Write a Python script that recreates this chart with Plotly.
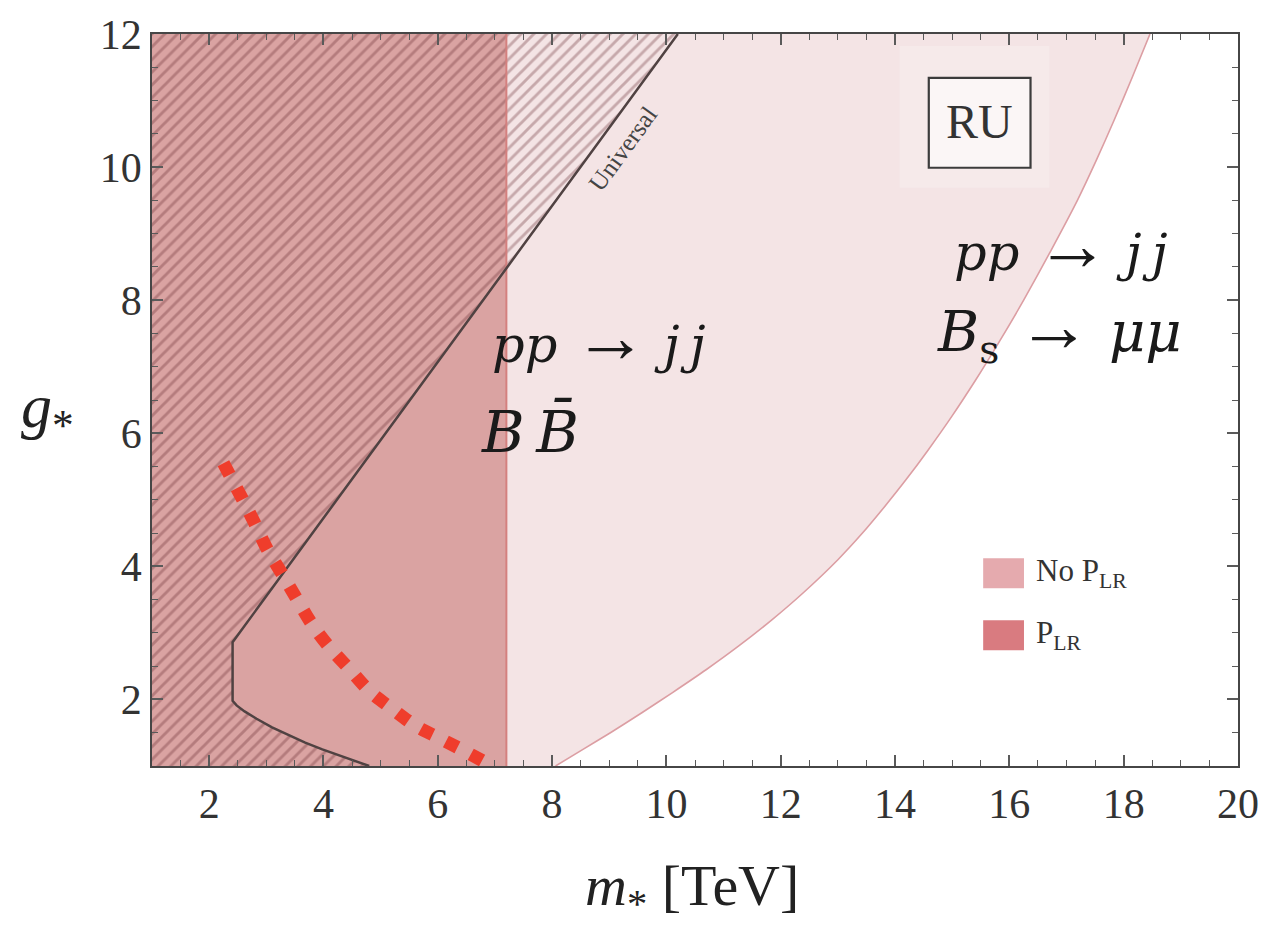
import plotly.graph_objects as go

# ---------------- data ----------------
# outer bound (pp->jj, Bs->mumu), No P_LR
bound_g = [1.0, 1.25, 1.5, 1.8, 2.1, 2.45, 2.8, 3.2, 3.6, 4.1, 4.5, 4.9, 5.3, 5.75,
           6.25, 6.8, 7.4, 8.0, 8.75, 9.5, 10.1, 10.7, 11.35, 12.0]
bound_m = [8.06, 8.54, 9.02, 9.57, 10.10, 10.70, 11.26, 11.85, 12.39, 13.00, 13.43, 13.82,
           14.19, 14.58, 14.99, 15.41, 15.84, 16.25, 16.73, 17.19, 17.52, 17.83, 18.15, 18.46]

# P_LR bound (pp->jj, B Bbar): vertical line
plr_m = 7.2

# "Universal" excluded boundary
univ_m = [4.8, 4.57, 4.25, 3.98, 3.68, 3.4, 3.1, 2.83, 2.62, 2.48, 2.41, 2.41, 10.2]
univ_g = [1.0, 1.07, 1.16, 1.25, 1.35, 1.46, 1.58, 1.71, 1.82, 1.91, 1.98, 2.86, 12.0]

# red dotted curve
red_m = [2.25, 2.57, 2.79, 3.02, 3.28, 3.54, 3.80, 4.10, 4.45, 4.80, 5.20, 5.62, 6.05, 6.50, 6.95]
red_g = [5.55, 5.03, 4.66, 4.25, 3.88, 3.50, 3.13, 2.79, 2.46, 2.13, 1.86, 1.60, 1.41, 1.21, 1.0]

x_range = [1, 20]
y_range = [1, 12]
x_ticks = [2, 4, 6, 8, 10, 12, 14, 16, 18, 20]
y_ticks = [2, 4, 6, 8, 10, 12]

# ---------------- styling ----------------
LIGHT = "rgb(244,228,229)"
DARK = "rgb(218,163,162)"
SERIF = "Liberation Serif"
MATH = "DejaVu Serif"
ARROW = "<span style=\"font-family:'Liberation Serif';font-size:74px\">→</span>"

fig = go.Figure()

# light region (No P_LR)
fig.add_trace(go.Scatter(
    x=[x_range[0]] + bound_m + [x_range[0]],
    y=[y_range[0]] + bound_g + [y_range[1]],
    fill="toself", fillcolor=LIGHT, mode="lines",
    line=dict(width=0), hoverinfo="skip", showlegend=False))

# dark region (P_LR)
fig.add_trace(go.Scatter(
    x=[x_range[0], plr_m, plr_m, x_range[0], x_range[0]],
    y=[y_range[0], y_range[0], y_range[1], y_range[1], y_range[0]],
    fill="toself", fillcolor=DARK, mode="lines",
    line=dict(width=0), hoverinfo="skip", showlegend=False))

# hatched "Universal" region
fig.add_trace(go.Scatter(
    x=[x_range[0]] + univ_m + [x_range[0], x_range[0]],
    y=[y_range[0]] + univ_g + [y_range[1], y_range[0]],
    fill="toself", fillcolor="rgba(0,0,0,0)", mode="lines",
    line=dict(width=0),
    fillpattern=dict(shape="/", size=9, solidity=0.32,
                     fgcolor="rgba(95,35,40,0.62)", bgcolor="rgba(0,0,0,0)"),
    hoverinfo="skip", showlegend=False))

# outer bound curve
fig.add_trace(go.Scatter(x=bound_m, y=bound_g, mode="lines",
                         line=dict(color="rgb(220,158,163)", width=1.6, shape="spline", smoothing=0.6),
                         hoverinfo="skip", showlegend=False))
# vertical P_LR bound
fig.add_trace(go.Scatter(x=[plr_m, plr_m], y=y_range, mode="lines",
                         line=dict(color="rgb(212,128,126)", width=2),
                         hoverinfo="skip", showlegend=False))
# Universal boundary
fig.add_trace(go.Scatter(x=univ_m, y=univ_g, mode="lines",
                         line=dict(color="rgb(80,66,66)", width=2.5),
                         hoverinfo="skip", showlegend=False))
# red dotted line
fig.add_trace(go.Scatter(x=red_m, y=red_g, mode="lines",
                         line=dict(color="rgb(239,61,44)", width=13, dash="13px,15px", shape="spline"),
                         hoverinfo="skip", showlegend=False))

# whitish panel + RU box
fig.add_shape(type="rect", x0=14.08, x1=16.70, y0=9.69, y1=11.82,
              line=dict(width=0), fillcolor="rgba(255,255,255,0.22)", layer="above")
fig.add_shape(type="rect", x0=14.59, x1=16.37, y0=9.99, y1=11.34,
              line=dict(color="rgb(60,60,60)", width=2.2), fillcolor="rgba(255,255,255,0.55)", layer="above")
fig.add_annotation(x=15.48, y=10.68, text="RU", showarrow=False,
                   font=dict(family=SERIF, size=48, color="#333"))

# legend (custom)
fig.add_shape(type="rect", xref="paper", yref="paper",
              x0=(987-152)/1091, x1=(1028-152)/1091, y0=(766-588)/733, y1=(766-558)/733,
              line=dict(width=0), fillcolor="rgb(229,170,174)")
fig.add_shape(type="rect", xref="paper", yref="paper",
              x0=(987-152)/1091, x1=(1028-152)/1091, y0=(766-650)/733, y1=(766-620)/733,
              line=dict(width=0), fillcolor="rgb(217,123,128)")
fig.add_annotation(xref="paper", yref="paper", x=(1038-152)/1091, y=(766-573)/733,
                   xanchor="left", yanchor="middle", showarrow=False,
                   text="No P<sub>LR</sub>", font=dict(family=SERIF, size=31, color="#333"))
fig.add_annotation(xref="paper", yref="paper", x=(1038-152)/1091, y=(766-635)/733,
                   xanchor="left", yanchor="middle", showarrow=False,
                   text="P<sub>LR</sub>", font=dict(family=SERIF, size=31, color="#333"))

# in-plot labels
fig.add_annotation(x=9.24, y=10.28, text="Universal", showarrow=False, textangle=-54,
                   font=dict(family=SERIF, size=25, color="#444"))
fig.add_annotation(x=8.82, y=7.45, text="<i>pp</i> " + ARROW + " <i>j\u2009j</i>", showarrow=False,
                   font=dict(family=MATH, size=51, color="#1a1a1a"))
fig.add_annotation(x=7.62, y=6.02, text="<i>B\u2009B\u0304</i>", showarrow=False,
                   font=dict(family=MATH, size=58, color="#1a1a1a"))
fig.add_annotation(x=16.9, y=8.83, text="<i>pp</i> " + ARROW + " <i>j\u2009j</i>", showarrow=False,
                   font=dict(family=MATH, size=51, color="#1a1a1a"))
fig.add_annotation(x=16.88, y=7.58, text="<i>B</i><sub>s</sub> " + ARROW + " <i>μμ</i>", showarrow=False,
                   font=dict(family=MATH, size=56, color="#1a1a1a"))

# axis titles
fig.add_annotation(xref="paper", yref="paper", x=(694-152)/1091, y=(766-890)/733,
                   xanchor="center", yanchor="middle", showarrow=False,
                   text="<i>m</i><sub>*</sub> [TeV]", font=dict(family=SERIF, size=58, color="#222"))
fig.add_annotation(xref="paper", yref="paper", x=(47-152)/1091, y=(766-410)/733,
                   xanchor="center", yanchor="middle", showarrow=False,
                   text="<i>g</i><sub>*</sub>", font=dict(family=SERIF, size=62, color="#222"))

axis_common = dict(showgrid=False, zeroline=False, showline=True, linecolor="rgb(70,70,70)",
                   linewidth=1.5, mirror="allticks", ticks="inside", ticklen=11, tickwidth=1.5,
                   tickcolor="rgb(90,90,90)",
                   tickfont=dict(family=SERIF, size=42, color="#333"),
                   minor=dict(ticks="inside", ticklen=6, tickwidth=1.2, dtick=0.5,
                              tickcolor="rgb(90,90,90)", showgrid=False))

fig.update_xaxes(range=x_range, tickvals=x_ticks, **axis_common)
fig.update_yaxes(range=y_range, tickvals=y_ticks, **axis_common)

fig.update_layout(width=1271, height=930, margin=dict(l=152, r=28, t=33, b=164),
                  paper_bgcolor="white", plot_bgcolor="white", showlegend=False)

fig.write_html("out.html")
